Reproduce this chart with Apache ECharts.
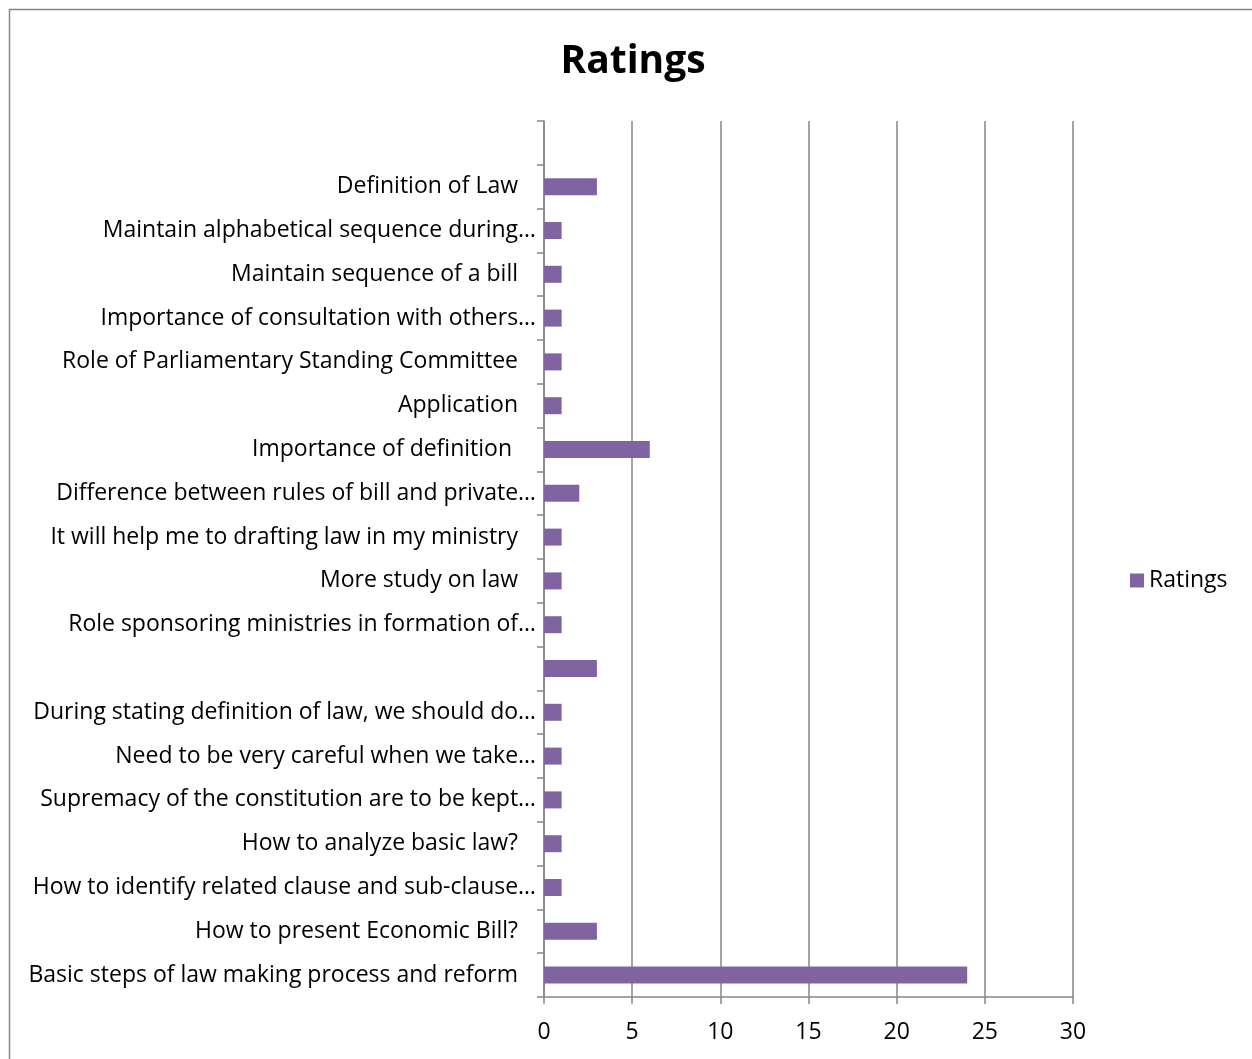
<!DOCTYPE html>
<html><head><meta charset="utf-8">
<script src="https://cdn.jsdelivr.net/npm/echarts@6/dist/echarts.min.js"></script>
<style>html,body{margin:0;padding:0;background:#fff}#c{width:1252px;height:1059px}</style>
</head><body><div id="c"></div>
<script>
const categories = [
  "",
  "Definition of Law",
  "Maintain alphabetical sequence during…",
  "Maintain sequence of a bill",
  "Importance of consultation with others…",
  "Role of Parliamentary Standing Committee",
  "Application",
  "Importance of definition ",
  "Difference between rules of bill and private…",
  "It will help me to drafting law in my ministry",
  "More study on law",
  "Role sponsoring ministries in formation of…",
  "",
  "During stating definition of law, we should do…",
  "Need to be very careful when we take…",
  "Supremacy of the constitution are to be kept…",
  "How to analyze basic law?",
  "How to identify related clause and sub-clause…",
  "How to present Economic Bill?",
  "Basic steps of law making process and reform"
];
const ratings = [null, 3, 1, 1, 1, 1, 1, 6, 2, 1, 1, 1, 3, 1, 1, 1, 1, 1, 3, 24];
const xTicks = [0, 5, 10, 15, 20, 25, 30];

const chart = echarts.init(document.getElementById('c'));
const FONT = 'Open Sans';
const FS = 23;
chart.setOption({
  animation: false,
  backgroundColor: '#fff',
  title: {
    text: 'Ratings', left: 628, top: 37, textAlign: 'center',
    textStyle: { fontFamily: FONT, fontSize: 39, fontWeight: 'bold', color: '#000' }
  },
  legend: {
    data: ['Ratings'], orient: 'vertical', left: 1125, top: 564,
    itemWidth: 14, itemHeight: 14, itemGap: 6, icon: 'rect',
    textStyle: { fontFamily: FONT, fontSize: FS, color: '#000' }
  },
  grid: { left: 544, right: 179, top: 121, bottom: 62, containLabel: false },
  xAxis: {
    type: 'value', min: xTicks[0], max: xTicks[xTicks.length - 1], interval: 5,
    axisLine: { show: true, lineStyle: { color: '#868686', width: 1.5 } },
    axisTick: { show: true, length: 7, lineStyle: { color: '#868686', width: 1.5 } },
    splitLine: { show: true, lineStyle: { color: '#868686', width: 1.5 } },
    axisLabel: { fontFamily: FONT, fontSize: FS, color: '#000', margin: 24 }
  },
  yAxis: {
    type: 'category', data: categories, inverse: true,
    axisLine: { show: true, lineStyle: { color: '#868686', width: 1.5 } },
    axisTick: { show: true, length: 7, alignWithLabel: false, lineStyle: { color: '#868686', width: 1.5 } },
    axisLabel: {
      fontFamily: FONT, fontSize: FS, color: '#000', margin: 8,
      formatter: function (v) { return v.endsWith('…') ? '{t|' + v + '}' : '{p|' + v + '}'; },
      rich: {
        t: { fontFamily: FONT, fontSize: FS, color: '#000' },
        p: { fontFamily: FONT, fontSize: FS, color: '#000', padding: [0, 18, 0, 0] }
      }
    }
  },
  series: [{
    name: 'Ratings', type: 'bar', data: ratings, barWidth: 17,
    itemStyle: { color: '#8064A2' }
  }],
  graphic: [{
    type: 'rect', shape: { x: 9.5, y: 9.5, width: 1260, height: 1080 },
    style: { fill: 'none', stroke: '#868686', lineWidth: 1.5 }, silent: true
  }]
});
</script></body></html>
